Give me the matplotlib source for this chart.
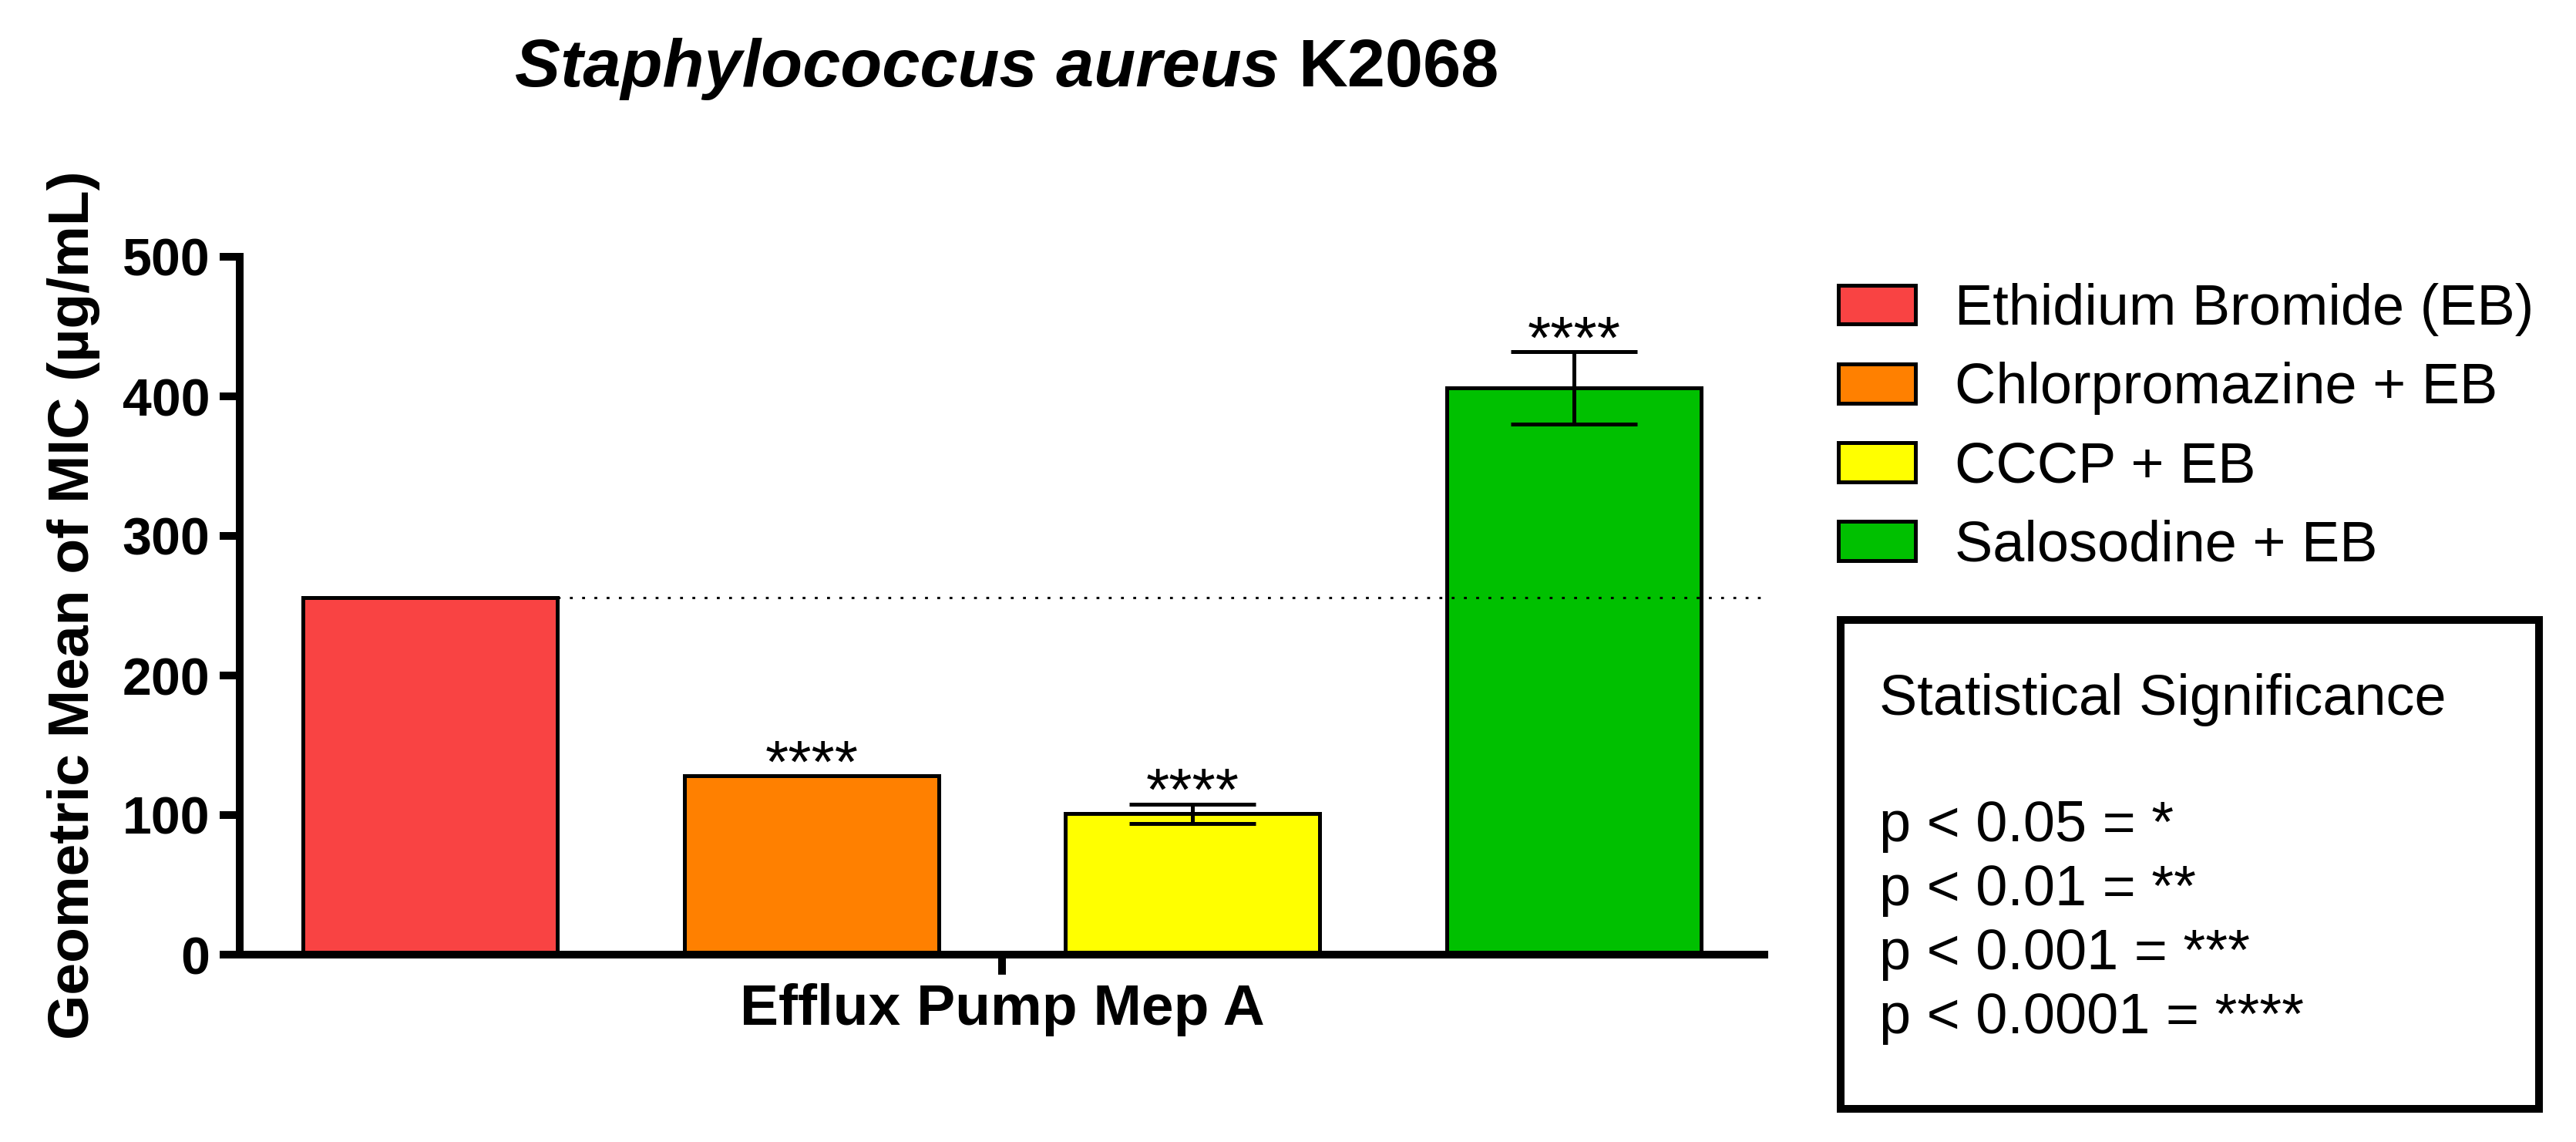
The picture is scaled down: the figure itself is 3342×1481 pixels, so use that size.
import matplotlib.pyplot as plt
from matplotlib.patches import Rectangle

plt.rcParams["font.family"] = ["Liberation Sans", "DejaVu Sans"]

# data
groups = ["Ethidium Bromide (EB)", "Chlorpromazine + EB", "CCCP + EB", "Salosodine + EB"]
mic_means = [256, 128, 101, 406]
mic_errs = [0, 0, 7, 26]
stars = ["", "****", "****", "****"]
colors = ["#F94343", "#FF8000", "#FFFF00", "#00C000"]
y_ticks = [0, 100, 200, 300, 400, 500]
x_label = "Efflux Pump Mep A"
sig_lines = ["p < 0.05 = *", "p < 0.01 = **", "p < 0.001 = ***", "p < 0.0001 = ****"]

W, H, DPI = 3342, 1481, 200


def fx(px):
    return px / W


def fy(py):
    return 1 - py / H


fig = plt.figure(figsize=(W / DPI, H / DPI), dpi=DPI)
ax = fig.add_axes([fx(311), fy(1238), fx(2289) - fx(311), fy(333) - fy(1238)])

xs = list(range(len(groups)))
bars = ax.bar(xs, mic_means, width=0.667, color=colors, edgecolor="black", linewidth=1.8, zorder=2)

# error bars only where there is a spread
for x, m, e in zip(xs, mic_means, mic_errs):
    if e > 0:
        ax.errorbar(x, m, yerr=e, fmt="none", ecolor="black", elinewidth=1.8,
                    capsize=29.5, capthick=1.8, zorder=4)

# significance stars above the bar / error bar
for x, m, e, s in zip(xs, mic_means, mic_errs, stars):
    if s:
        ax.annotate(s, xy=(x, m + e), xytext=(0, -3), textcoords="offset points",
                    ha="center", va="baseline", fontsize=28, zorder=6)

# reference line at the EB level
ax.hlines(mic_means[0], xs[0] + 0.333, 3.5, colors="black", linestyles=(0, (1.2, 4)),
          linewidth=1.1, zorder=5)

ax.set_xlim(-0.5, 3.5)
ax.set_ylim(0, 500)
ax.set_yticks(y_ticks)
ax.set_xticks([1.5])
ax.set_xticklabels([x_label], fontsize=27, fontweight="bold")
for lab in ax.get_yticklabels():
    lab.set_fontsize(24.5)
    lab.set_fontweight("bold")

for side in ["top", "right"]:
    ax.spines[side].set_visible(False)
for side in ["left", "bottom"]:
    ax.spines[side].set_linewidth(3.6)
ax.tick_params(axis="both", width=3.6, length=9.4, direction="out")
ax.tick_params(axis="y", pad=4.5)
ax.tick_params(axis="x", pad=4)

fig.text(fx(96), fy(785), "Geometric Mean of MIC (µg/mL)", rotation=90, ha="center",
         va="center", fontsize=27, fontweight="bold")

# title: italic species + plain strain
t1 = fig.text(fx(668), fy(112), "Staphylococcus aureus", fontsize=31.8, fontweight="bold",
              fontstyle="italic", ha="left", va="baseline")
fig.canvas.draw()
bb = t1.get_window_extent()
fig.text((bb.x1 + 0.28 * 31.8 * DPI / 72) / W, fy(112), "K2068", fontsize=31.8,
         fontweight="bold", ha="left", va="baseline")

fig.legend(bars, groups, loc="upper left", bbox_to_anchor=(fx(2385), fy(367)),
           frameon=False, fontsize=26.6, handlelength=1.35, handleheight=0.68,
           handletextpad=0.7, labelspacing=0.45, borderpad=0, borderaxespad=0)

# significance key box
fig.patches.append(Rectangle((fx(2388), fy(1438)), fx(3294) - fx(2388), fy(804) - fy(1438),
                             transform=fig.transFigure, fill=False, linewidth=3.6,
                             edgecolor="black"))
fig.text(fx(2438), fy(927), "Statistical Significance", fontsize=26.6, va="baseline")
for i, line in enumerate(sig_lines):
    fig.text(fx(2438), fy(1091 + 83 * i), line, fontsize=26.6, va="baseline")

fig.savefig("out.png", dpi=DPI)
